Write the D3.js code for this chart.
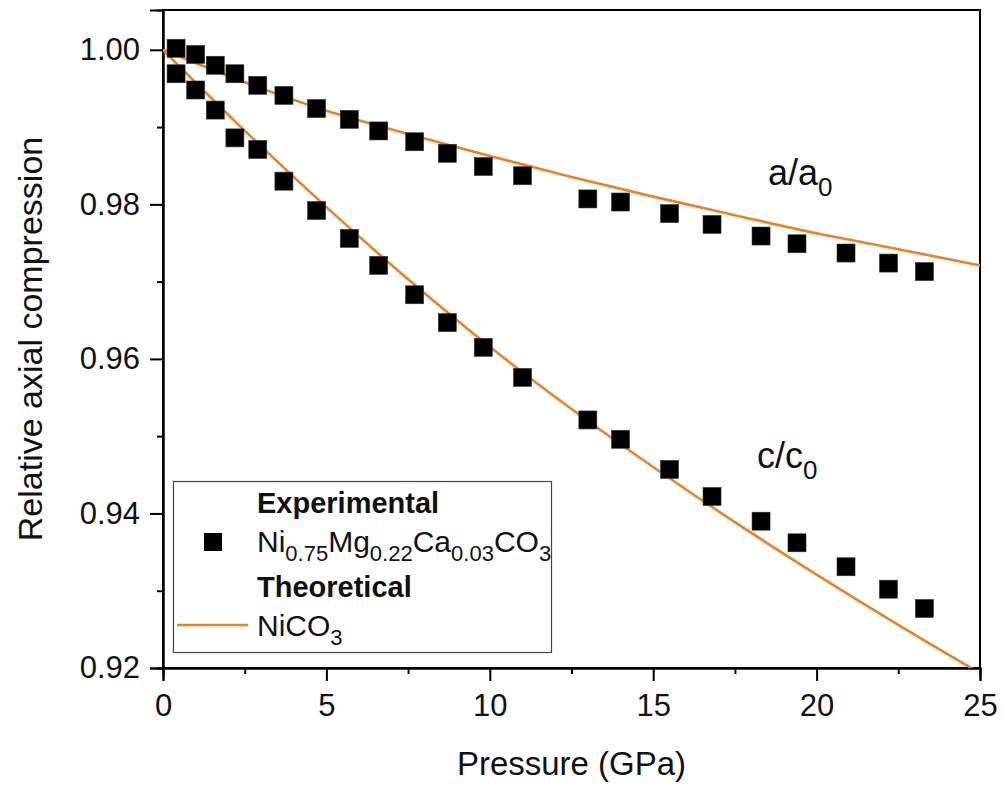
<!DOCTYPE html>
<html>
<head>
<meta charset="utf-8">
<script src="https://cdn.jsdelivr.net/npm/d3@7"></script>
<style>
  body { margin: 0; background: #fff; }
  svg { font-family: "Liberation Sans", Arial, sans-serif; }
</style>
</head>
<body>
<svg id="chart" width="1003" height="786"></svg>
<script>
// experimental pressures (GPa) and relative axes
const pressure = [0.4, 1.0, 1.6, 2.2, 2.9, 3.7, 4.7, 5.7, 6.6, 7.7, 8.7, 9.8, 11.0,
                  13.0, 14.0, 15.5, 16.8, 18.3, 19.4, 20.9, 22.2, 23.3];
const aExp = [1.0002, 0.9994, 0.9980, 0.9969, 0.9954, 0.9941, 0.9924, 0.9910, 0.9895,
              0.9881, 0.9866, 0.9849, 0.9837, 0.9807, 0.9803, 0.9788, 0.9774, 0.9759,
              0.9749, 0.9737, 0.9724, 0.9713];
const cExp = [0.9969, 0.9948, 0.9922, 0.9886, 0.9871, 0.9830, 0.9792, 0.9756, 0.9721,
              0.9683, 0.9647, 0.9615, 0.9576, 0.9521, 0.9496, 0.9457, 0.9422, 0.9390,
              0.9362, 0.9331, 0.9302, 0.9277];

// theoretical NiCO3 curves
const pTheo = [0, 2.5, 5, 7.5, 10, 12.5, 15, 17.5, 20, 22.5, 25];
const aTheo = [1.0, 0.9958, 0.9921, 0.9891, 0.98625, 0.98355, 0.9810, 0.9786, 0.97625, 0.9742, 0.9721];
const cTheo = [1.0, 0.98954, 0.97964, 0.9703, 0.96157, 0.95352, 0.94601, 0.93887, 0.93208, 0.92558, 0.91933];

const xTicks = [0, 5, 10, 15, 20, 25];
const xMinor = [2.5, 7.5, 12.5, 17.5, 22.5];
const yTicks = [0.92, 0.94, 0.96, 0.98, 1.00];
const yMinor = [0.93, 0.95, 0.97, 0.99];

const orange = "#e8822a";
const svg = d3.select("#chart");
const m = { left: 163, right: 980, top: 10, bottom: 668 };

const x = d3.scaleLinear().domain([0, 25]).range([m.left, m.right]);
const y = d3.scaleLinear().domain([0.92, 1.00515]).range([m.bottom, m.top]);

svg.append("defs").append("clipPath").attr("id", "plot")
  .append("rect")
  .attr("x", m.left).attr("y", m.top)
  .attr("width", m.right - m.left).attr("height", m.bottom - m.top);

// frame
svg.append("rect")
  .attr("x", m.left).attr("y", m.top)
  .attr("width", m.right - m.left).attr("height", m.bottom - m.top)
  .style("fill", "none").style("stroke", "#000").style("stroke-width", 2);

// axes
svg.append("g").attr("transform", `translate(0,${m.bottom})`)
  .call(d3.axisBottom(x).tickValues(xTicks).tickSize(13).tickPadding(13).tickFormat(d3.format("d")));
svg.append("g").attr("transform", `translate(0,${m.bottom})`)
  .call(d3.axisBottom(x).tickValues(xMinor).tickSize(6).tickFormat(""));
svg.append("g").attr("transform", `translate(${m.left},0)`)
  .call(d3.axisLeft(y).tickValues(yTicks).tickSize(13).tickPadding(10).tickFormat(d3.format(".2f")));
svg.append("g").attr("transform", `translate(${m.left},0)`)
  .call(d3.axisLeft(y).tickValues(yMinor).tickSize(6).tickFormat(""));

svg.selectAll(".domain").style("stroke-width", 2);
svg.selectAll(".tick line").style("stroke-width", 2);
svg.selectAll(".tick text").style("font-size", "31px").style("fill", "#111")
  .style("font-family", "'Liberation Sans', Arial, sans-serif");
// minor ticks carry empty labels, drop them
svg.selectAll(".tick text").filter(function () { return this.textContent === ""; }).remove();

// axis titles
svg.append("text")
  .attr("x", (m.left + m.right) / 2).attr("y", 775)
  .attr("text-anchor", "middle")
  .style("font-size", "33px").style("fill", "#111")
  .text("Pressure (GPa)");
svg.append("text")
  .attr("transform", `translate(42,${(m.top + m.bottom) / 2}) rotate(-90)`)
  .attr("text-anchor", "middle")
  .style("font-size", "34px").style("fill", "#111")
  .text("Relative axial compression");

// theory lines
const line = d3.line().curve(d3.curveMonotoneX);
const plot = svg.append("g").attr("clip-path", "url(#plot)");
[aTheo, cTheo].forEach(vals => {
  plot.append("path")
    .attr("d", line(pTheo.map((p, i) => [x(p), y(vals[i])])))
    .style("fill", "none").style("stroke", orange).style("stroke-width", 2.6);
});

// experimental squares
const sq = 18;
[aExp, cExp].forEach(vals => {
  plot.append("g").selectAll("rect")
    .data(pressure.map((p, i) => ({ p: p, v: vals[i] })))
    .enter().append("rect")
    .attr("x", d => x(d.p) - sq / 2)
    .attr("y", d => y(d.v) - sq / 2)
    .attr("width", sq).attr("height", sq)
    .style("fill", "#000").style("stroke", "#333").style("stroke-width", 0.6);
});

// text with subscripts: parts are [string, isSub]
function subText(g, xPos, yPos, parts, size, subSize, weight) {
  const t = g.append("text").attr("x", xPos).attr("y", yPos)
    .style("font-size", size + "px").style("fill", "#111");
  if (weight) t.style("font-weight", weight);
  const shift = Math.round(subSize * 0.42);
  let down = false;
  parts.forEach(pt => {
    const sub = !!pt[1];
    const ts = t.append("tspan").text(pt[0]);
    if (sub) ts.style("font-size", subSize + "px");
    if (sub && !down) ts.attr("dy", shift);
    if (!sub && down) ts.attr("dy", -shift);
    down = sub;
  });
  return t;
}
subText(svg, 768, 185, [["a/a"], ["0", true]], 36, 26);
subText(svg, 757, 468, [["c/c"], ["0", true]], 36, 26);

// legend
svg.append("rect")
  .attr("x", 173.5).attr("y", 481.5).attr("width", 378).attr("height", 171)
  .style("fill", "#fff").style("stroke", "#444").style("stroke-width", 1.2);
subText(svg, 257, 513, [["Experimental"]], 29, 21, "bold");
svg.append("rect").attr("x", 204).attr("y", 533).attr("width", sq).attr("height", sq)
  .style("fill", "#000");
subText(svg, 257, 552, [["Ni"], ["0.75", true], ["Mg"], ["0.22", true], ["Ca"], ["0.03", true], ["CO"], ["3", true]], 30, 22);
subText(svg, 257, 597, [["Theoretical"]], 29, 21, "bold");
svg.append("line").attr("x1", 177).attr("x2", 248).attr("y1", 625).attr("y2", 625)
  .style("stroke", orange).style("stroke-width", 2.6);
subText(svg, 257, 636, [["NiCO"], ["3", true]], 30, 22);
</script>
</body>
</html>
